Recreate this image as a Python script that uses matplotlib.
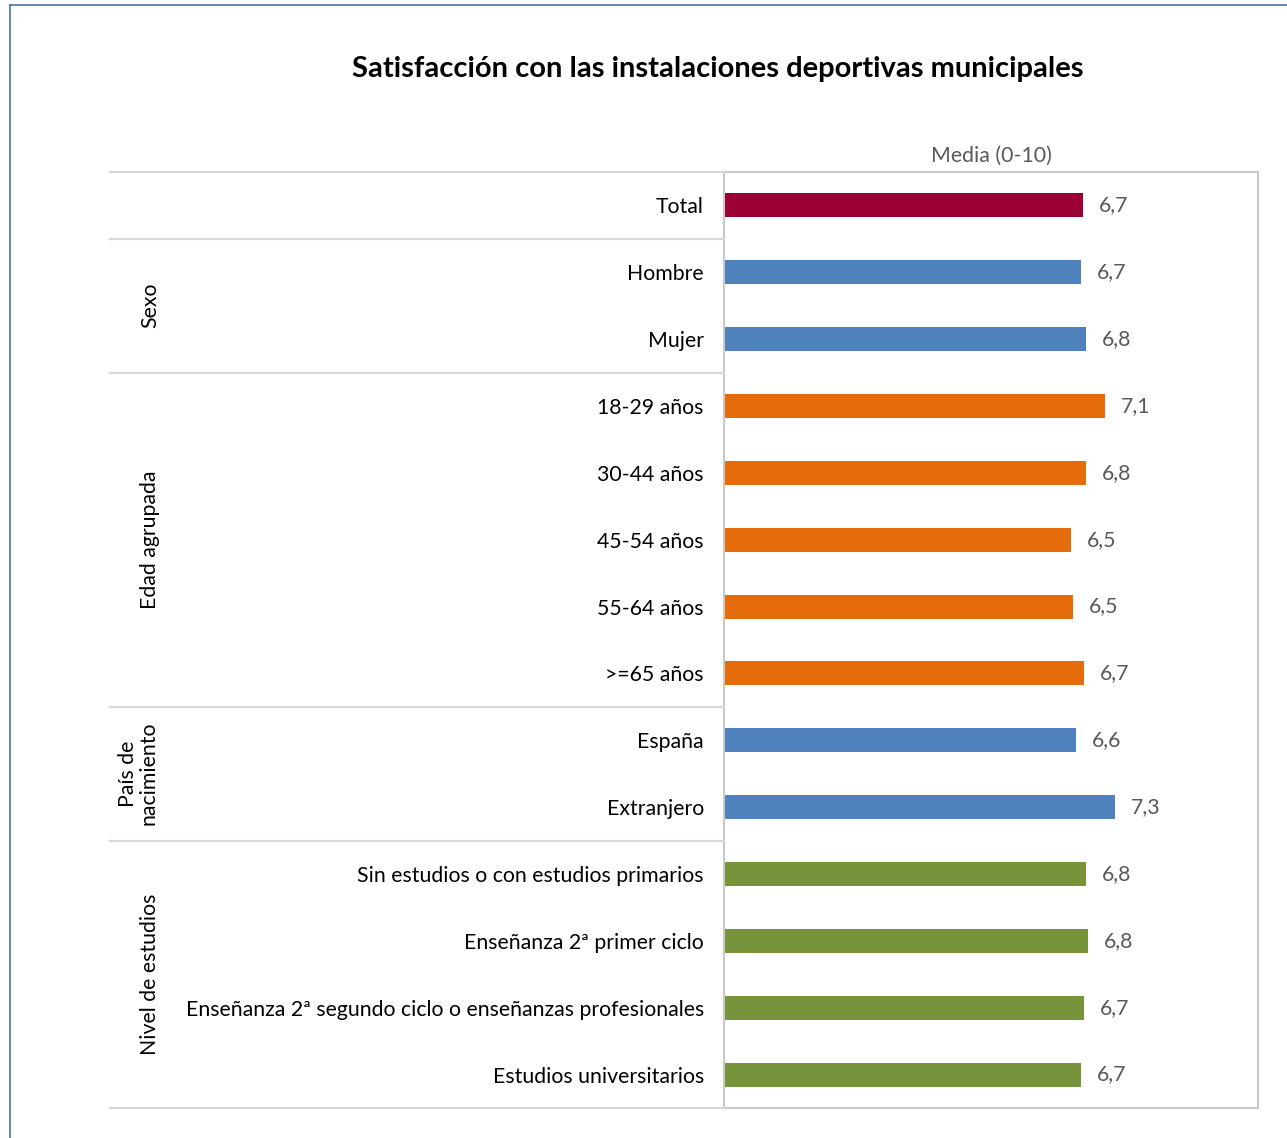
"""
Barras horizontales: Satisfacción con las instalaciones deportivas municipales
"""
import matplotlib.pyplot as plt
import matplotlib.transforms as mtransforms
from matplotlib.lines import Line2D

plt.rcParams["font.family"] = ["Lato", "DejaVu Sans"]

CATEGORIES = [
    "Total",
    "Hombre",
    "Mujer",
    "18-29 años",
    "30-44 años",
    "45-54 años",
    "55-64 años",
    ">=65 años",
    "España",
    "Extranjero",
    "Sin estudios o con estudios primarios",
    "Enseñanza 2ª primer ciclo",
    "Enseñanza 2ª segundo ciclo o enseñanzas profesionales",
    "Estudios universitarios",
]
VALUES = [6.72, 6.68, 6.78, 7.14, 6.78, 6.50, 6.54, 6.74, 6.59, 7.32, 6.78, 6.82, 6.74, 6.69]
GROUP_OF = [0, 1, 1, 2, 2, 2, 2, 2, 3, 3, 4, 4, 4, 4]

GROUPS = ["", "Sexo", "Edad agrupada", "País de\nnacimiento", "Nivel de estudios"]
GROUP_COLORS = ["#9b0034", "#4f81bd", "#e46c0a", "#4f81bd", "#77933c"]

W, H = 1287, 1138
FS = 15.3


def main():
    fig = plt.figure(figsize=(W / 100, H / 100), dpi=100)
    ax = fig.add_axes([724 / W, 1 - 1108 / H, 534 / W, 936 / H])

    y = list(range(len(CATEGORIES)))
    colors = [GROUP_COLORS[g] for g in GROUP_OF]
    ax.barh(y, VALUES, height=0.36, color=colors)

    for yi, v in zip(y, VALUES):
        ax.annotate(f"{v:.1f}".replace(".", ","), (v, yi), xytext=(11.5, 0),
                    textcoords="offset points", va="center", ha="left",
                    fontsize=FS, color="#595959")

    ax.set_xlim(0, 10)
    ax.set_ylim(len(CATEGORIES) - 0.5, -0.5)
    ax.set_xticks([])
    ax.set_yticks(y)
    ax.set_yticklabels(CATEGORIES, fontsize=FS, color="black")
    ax.tick_params(axis="y", length=0, pad=14.5)
    for s in ax.spines.values():
        s.set_color("#c8c8c8")
        s.set_linewidth(1.5)
    ax.set_title("Media (0-10)", fontsize=FS, color="#595959", pad=7)

    # separadores de grupo y etiquetas rotadas
    trans = mtransforms.blended_transform_factory(fig.transFigure, ax.transData)
    bounds = [-0.5]
    for i in range(1, len(GROUP_OF)):
        if GROUP_OF[i] != GROUP_OF[i - 1]:
            bounds.append(i - 0.5)
    bounds.append(len(GROUP_OF) - 0.5)
    x0, x1 = 110 / W, 724 / W
    for b in bounds:
        fig.add_artist(Line2D([x0, x1], [b, b], transform=trans,
                              color="#d9d9d9", linewidth=1.6))
    for g, name in enumerate(GROUPS):
        rows = [i for i, gi in enumerate(GROUP_OF) if gi == g]
        if not name:
            continue
        yc = (rows[0] + rows[-1]) / 2
        ax.text(150 / W if "\n" not in name else 138 / W, yc, name,
                transform=trans, rotation=90, ha="center", va="center",
                fontsize=FS, linespacing=1.05, multialignment="center")

    fig.text(718 / W, 1 - 69 / H, "Satisfacción con las instalaciones deportivas municipales",
             ha="center", va="center", fontsize=21, fontweight="bold")

    # marco exterior
    fig.add_artist(Line2D([10 / W, 10 / W], [0, 1 - 5 / H], transform=fig.transFigure,
                          color="#4a6fa5", linewidth=1.2))
    fig.add_artist(Line2D([10 / W, 1], [1 - 5 / H, 1 - 5 / H], transform=fig.transFigure,
                          color="#4a6fa5", linewidth=1.2))

    fig.savefig("out.png", dpi=100)
    plt.close(fig)


if __name__ == "__main__":
    main()
